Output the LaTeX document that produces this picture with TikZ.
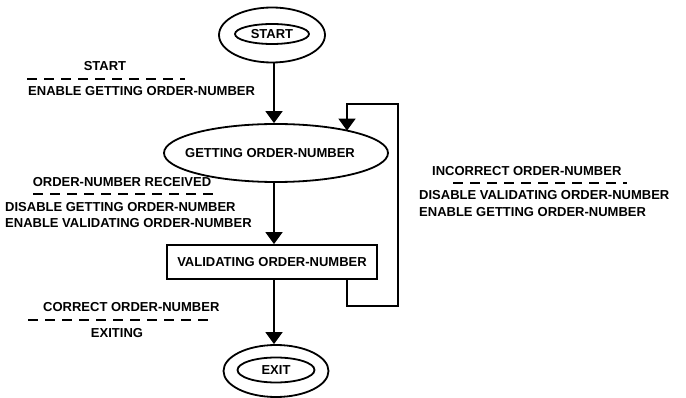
\documentclass[tikz,border=0pt]{standalone}
\usepackage{fontspec}
\setmainfont{Liberation Sans}
\usetikzlibrary{arrows.meta,shapes.geometric,calc}
\begin{document}
\begin{tikzpicture}[x=1pt,y=-1pt,
  font=\fontsize{13}{15}\selectfont\bfseries,
  lbl/.style={inner sep=0pt, text height=9pt, text depth=0pt},
  state/.style={draw, ellipse, line width=1.8pt, inner sep=0pt, text height=9pt, text depth=0pt},
  stbox/.style={draw, rectangle, line width=1.8pt, inner sep=0pt, minimum width=210pt, minimum height=34pt, text height=9pt, text depth=0pt},
  flow/.style={line width=1.8pt, -{Triangle[width=17pt,length=12pt]}},
  sepline/.style={line width=1.4pt, dash pattern=on 10pt off 7pt}]
\useasboundingbox (0,0) rectangle (686,398);
\fill[white] (0,0) rectangle (686,398);
% states
\node[state, minimum width=106pt, minimum height=55pt] (startout) at (272,35) {};
\node[state, minimum width=74pt, minimum height=20pt] (start) at (272,34) {START};
\node[state, minimum width=224pt, minimum height=58pt] (getting) at (276,153) {};
\node[lbl] (gettext) at (270,153) {GETTING ORDER-NUMBER};
\node[stbox] (val) at (272,262) {VALIDATING ORDER-NUMBER};
\node[state, minimum width=105pt, minimum height=52pt] (exitout) at (276,371) {};
\node[state, minimum width=77pt, minimum height=25pt] (exit) at (276,370) {EXIT};
% connectors
\coordinate (mainx) at (274,0);
\draw[flow] (mainx |- startout.south) -- (mainx |- getting.north);
\draw[flow] (mainx |- getting.south) -- (mainx |- val.north);
\draw[flow] (mainx |- val.south) -- (mainx |- exitout.north);
\coordinate (lpx) at (347,0);
\coordinate (lbr) at (398,306);
\coordinate (ltr) at (398,104);
\coordinate (gin) at (347,130.6);
\draw[flow] (lpx |- val.south) -- (lpx |- lbr) -- (lbr) -- (ltr) -- (lpx |- ltr) -- (gin);
% transition labels
\node[lbl] (t1a) at (105,66) {START};
\draw[sepline] (27,79) -- (185,79);
\node[lbl, anchor=west] (t1b) at (28,91) {ENABLE GETTING ORDER-NUMBER};

\node[lbl] (t2a) at (122,182) {ORDER-NUMBER RECEIVED};
\draw[sepline] (33,194) -- (213,194);
\node[lbl, anchor=west] (t2b) at (5,207) {DISABLE GETTING ORDER-NUMBER};
\node[lbl, anchor=west] (t2c) at (5,223) {ENABLE VALIDATING ORDER-NUMBER};

\node[lbl, anchor=west] (t3a) at (432,171) {INCORRECT ORDER-NUMBER};
\draw[sepline] (453,183) -- (627,183);
\node[lbl, anchor=west] (t3b) at (419,195) {DISABLE VALIDATING ORDER-NUMBER};
\node[lbl, anchor=west] (t3c) at (419,212) {ENABLE GETTING ORDER-NUMBER};

\node[lbl, anchor=west] (t4a) at (43,307) {CORRECT ORDER-NUMBER};
\draw[sepline] (28,320) -- (215,320);
\node[lbl] (t4b) at (117,333) {EXITING};
\end{tikzpicture}
\end{document}
